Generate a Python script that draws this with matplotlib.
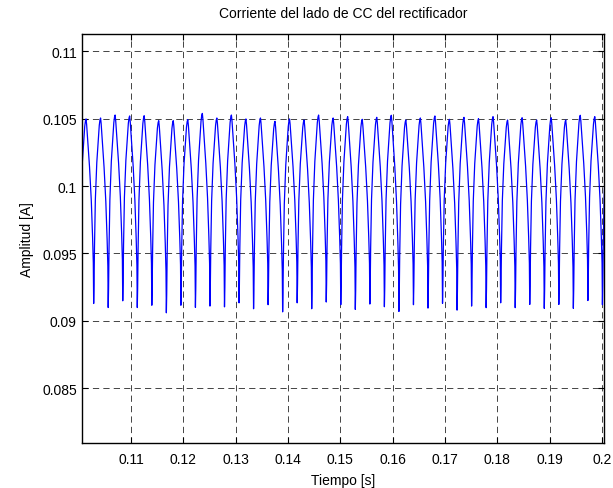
import numpy as np
import matplotlib
matplotlib.use('Agg')
import matplotlib.pyplot as plt

plt.rcParams['font.family'] = ['Liberation Sans', 'DejaVu Sans']
plt.rcParams['lines.scale_dashes'] = False

# ripple period (6-pulse rectifier, 60 Hz) and time of first visible peak
period = 1.0 / 360
first_peak = 0.1014

# peak value of each cycle (k = -1 .. 35)
peaks = [0.10500,
         0.10498, 0.10505, 0.10527, 0.10520, 0.10522, 0.10485, 0.10485, 0.10493, 0.10539,
         0.10505, 0.10527, 0.10498, 0.10505, 0.10480, 0.10498, 0.10490, 0.10527, 0.10505,
         0.10515, 0.10495, 0.10510, 0.10525, 0.10490, 0.10505, 0.10520, 0.10495, 0.10510, 0.10500,
         0.10515, 0.10490, 0.10507, 0.10490, 0.10507, 0.10490, 0.10525, 0.10515]

# minimum reached after each peak
troughs = [0.09120,
           0.09129, 0.09099, 0.09149, 0.09099, 0.09116, 0.09060, 0.09116, 0.09100, 0.09110,
           0.09104, 0.09134, 0.09090, 0.09120, 0.09067, 0.09134, 0.09090, 0.09140, 0.09120,
           0.09085, 0.09125, 0.09105, 0.09070, 0.09120, 0.09095, 0.09130, 0.09080, 0.09110,
           0.09098, 0.09134, 0.09098, 0.09122, 0.09093, 0.09122, 0.09093, 0.09151, 0.09120]

# shape of one ripple cycle (phase from peak, relative level)
shape_phase = [0.00, 0.04, 0.12, 0.24, 0.36, 0.45, 0.50, 0.525, 0.55, 0.58, 0.64, 0.74, 0.84, 0.91, 0.96]
shape_level = [1.00, 0.97, 0.88, 0.74, 0.56, 0.36, 0.22, 0.00, 0.10, 0.30, 0.56, 0.76, 0.88, 0.96, 0.99]

t, y = [], []
for i in range(len(peaks)):
    k = i - 1
    for p, l in zip(shape_phase, shape_level):
        top = peaks[i] if (p <= 0.525 or i + 1 >= len(peaks)) else peaks[i + 1]
        t.append(first_peak + (k + p) * period)
        y.append(troughs[i] + (top - troughs[i]) * l)
t = np.array(t)
y = np.array(y)

fig = plt.figure(figsize=(6.13, 4.89), dpi=100)
fig.set_facecolor('white')
ax = fig.add_axes([0.1343, 0.0914, 0.8510, 0.8370])
ax.plot(t, y, color='b', linewidth=0.9)

ax.set_xlim(0.10069, 0.20038)
ax.set_ylim(0.08092, 0.11128)
xt = [0.11, 0.12, 0.13, 0.14, 0.15, 0.16, 0.17, 0.18, 0.19, 0.2]
yt = [0.085, 0.09, 0.095, 0.1, 0.105, 0.11]
ax.set_xticks(xt)
ax.set_xticklabels(['0.11', '0.12', '0.13', '0.14', '0.15', '0.16', '0.17', '0.18', '0.19', '0.2'])
ax.set_yticks(yt)
ax.set_yticklabels(['0.085', '0.09', '0.095', '0.1', '0.105', '0.11'])
ax.tick_params(direction='in', length=4, width=0.8, top=True, right=True, labelsize=10)
ax.tick_params(axis='x', pad=6)
ax.tick_params(axis='y', pad=4)
ax.grid(True, color='black', linestyle=(0, (4.5, 3.0)), linewidth=0.6, alpha=0.85)
for s in ax.spines.values():
    s.set_linewidth(1.0)

ax.set_title('Corriente del lado de CC del rectificador', fontsize=10, pad=12)
ax.set_xlabel('Tiempo [s]', fontsize=10, labelpad=5)
ax.set_ylabel('Amplitud [A]', fontsize=10, labelpad=6)

plt.savefig('out.png', dpi=100, facecolor='white')
